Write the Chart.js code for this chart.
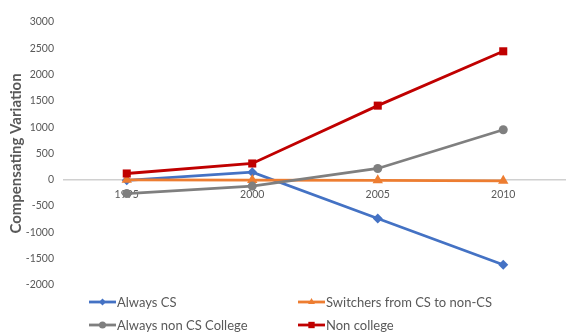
<!DOCTYPE html>
<html>
<head>
<meta charset="utf-8">
<script src="https://cdn.jsdelivr.net/npm/chart.js@4"></script>
<style>
  html, body { margin: 0; padding: 0; background: #fff; }
  #wrap { width: 566px; height: 334px; position: relative; }
</style>
</head>
<body>
<div id="wrap"><canvas id="c" width="566" height="334"></canvas></div>
<script>
const years = ['1995', '2000', '2005', '2010'];
const alwaysCS = [-10, 145, -735, -1615];
const switchers = [0, -5, -10, -20];
const alwaysNonCS = [-262, -120, 215, 952];
const nonCollege = [120, 310, 1410, 2443];
const seriesNames = ['Always CS', 'Switchers from CS to non-CS', 'Always non CS College', 'Non college'];
const yTicks = [-2000, -1500, -1000, -500, 0, 500, 1000, 1500, 2000, 2500, 3000];

const colors = ['#4472C4', '#ED7D31', '#7F7F7F', '#C00000'];
const pointStyles = ['rectRot', 'triangle', 'circle', 'rect'];
const pointRadii = [5, 6, 4.5, 5.7];
const legendRadii = [3.5, 4, 3.5, 4.5];
const seriesValues = [alwaysCS, switchers, alwaysNonCS, nonCollege];

const datasets = seriesNames.map((name, i) => ({
  label: name,
  data: seriesValues[i],
  borderColor: colors[i],
  backgroundColor: colors[i],
  borderWidth: 2.8,
  pointStyle: pointStyles[i],
  pointRadius: pointRadii[i],
  pointHoverRadius: pointRadii[i],
  pointBorderWidth: 0,
  tension: 0,
  clip: false,
  order: 3 - i
}));

const legendPos = [
  {x: 89, y: 302}, {x: 298, y: 302},
  {x: 89, y: 325}, {x: 298, y: 325}
];

const customLegend = {
  id: 'customLegend',
  afterDraw(chart) {
    const ctx = chart.ctx;
    ctx.save();
    chart.data.datasets.forEach((ds, i) => {
      const p = legendPos[i];
      ctx.strokeStyle = ds.borderColor;
      ctx.fillStyle = ds.borderColor;
      ctx.lineWidth = 2.8;
      ctx.beginPath();
      ctx.moveTo(p.x, p.y);
      ctx.lineTo(p.x + 27, p.y);
      ctx.stroke();
      ctx.lineWidth = 0.01;
      Chart.helpers.drawPoint(ctx, {
        pointStyle: ds.pointStyle,
        radius: legendRadii[i],
        rotation: 0,
        borderWidth: 0
      }, p.x + 13.5, p.y);
      ctx.fillStyle = '#595959';
      ctx.font = '13px Lato';
      ctx.textBaseline = 'middle';
      ctx.textAlign = 'left';
      ctx.fillText(ds.label, p.x + 28, p.y + 1);
    });
    ctx.restore();
  }
};

new Chart(document.getElementById('c'), {
  type: 'line',
  data: { labels: years, datasets },
  options: {
    responsive: false,
    animation: false,
    devicePixelRatio: 1,
    layout: { autoPadding: false, padding: { left: 0, right: -2, top: 22, bottom: 49 } },
    plugins: {
      legend: { display: false },
      tooltip: { enabled: false }
    },
    scales: {
      x: {
        type: 'category',
        position: { y: 0 },
        offset: true,
        afterFit(scale) { scale.paddingLeft = 0; scale.paddingRight = 0; },
        grid: { display: false, drawTicks: false },
        border: { display: true, color: '#D0D0D0', width: 1.5 },
        ticks: { color: '#595959', font: { family: 'Lato', size: 10.5 }, padding: 9, maxRotation: 0 }
      },
      y: {
        type: 'linear',
        min: -2000,
        max: 3000,
        afterBuildTicks(scale) { scale.ticks = yTicks.map(v => ({ value: v })); },
        afterFit(scale) { scale.width = 64; },
        grid: { display: false, drawTicks: false },
        border: { display: false },
        ticks: {
          color: '#595959',
          font: { family: 'Lato', size: 10.5 },
          padding: 10,
          callback: (v) => String(v)
        },
        title: {
          display: true,
          text: 'Compensating Variation',
          color: '#595959',
          font: { family: 'Lato', size: 15, weight: 'bold' },
          padding: { top: 7, bottom: 0 }
        }
      }
    }
  },
  plugins: [customLegend]
});
</script>
</body>
</html>
